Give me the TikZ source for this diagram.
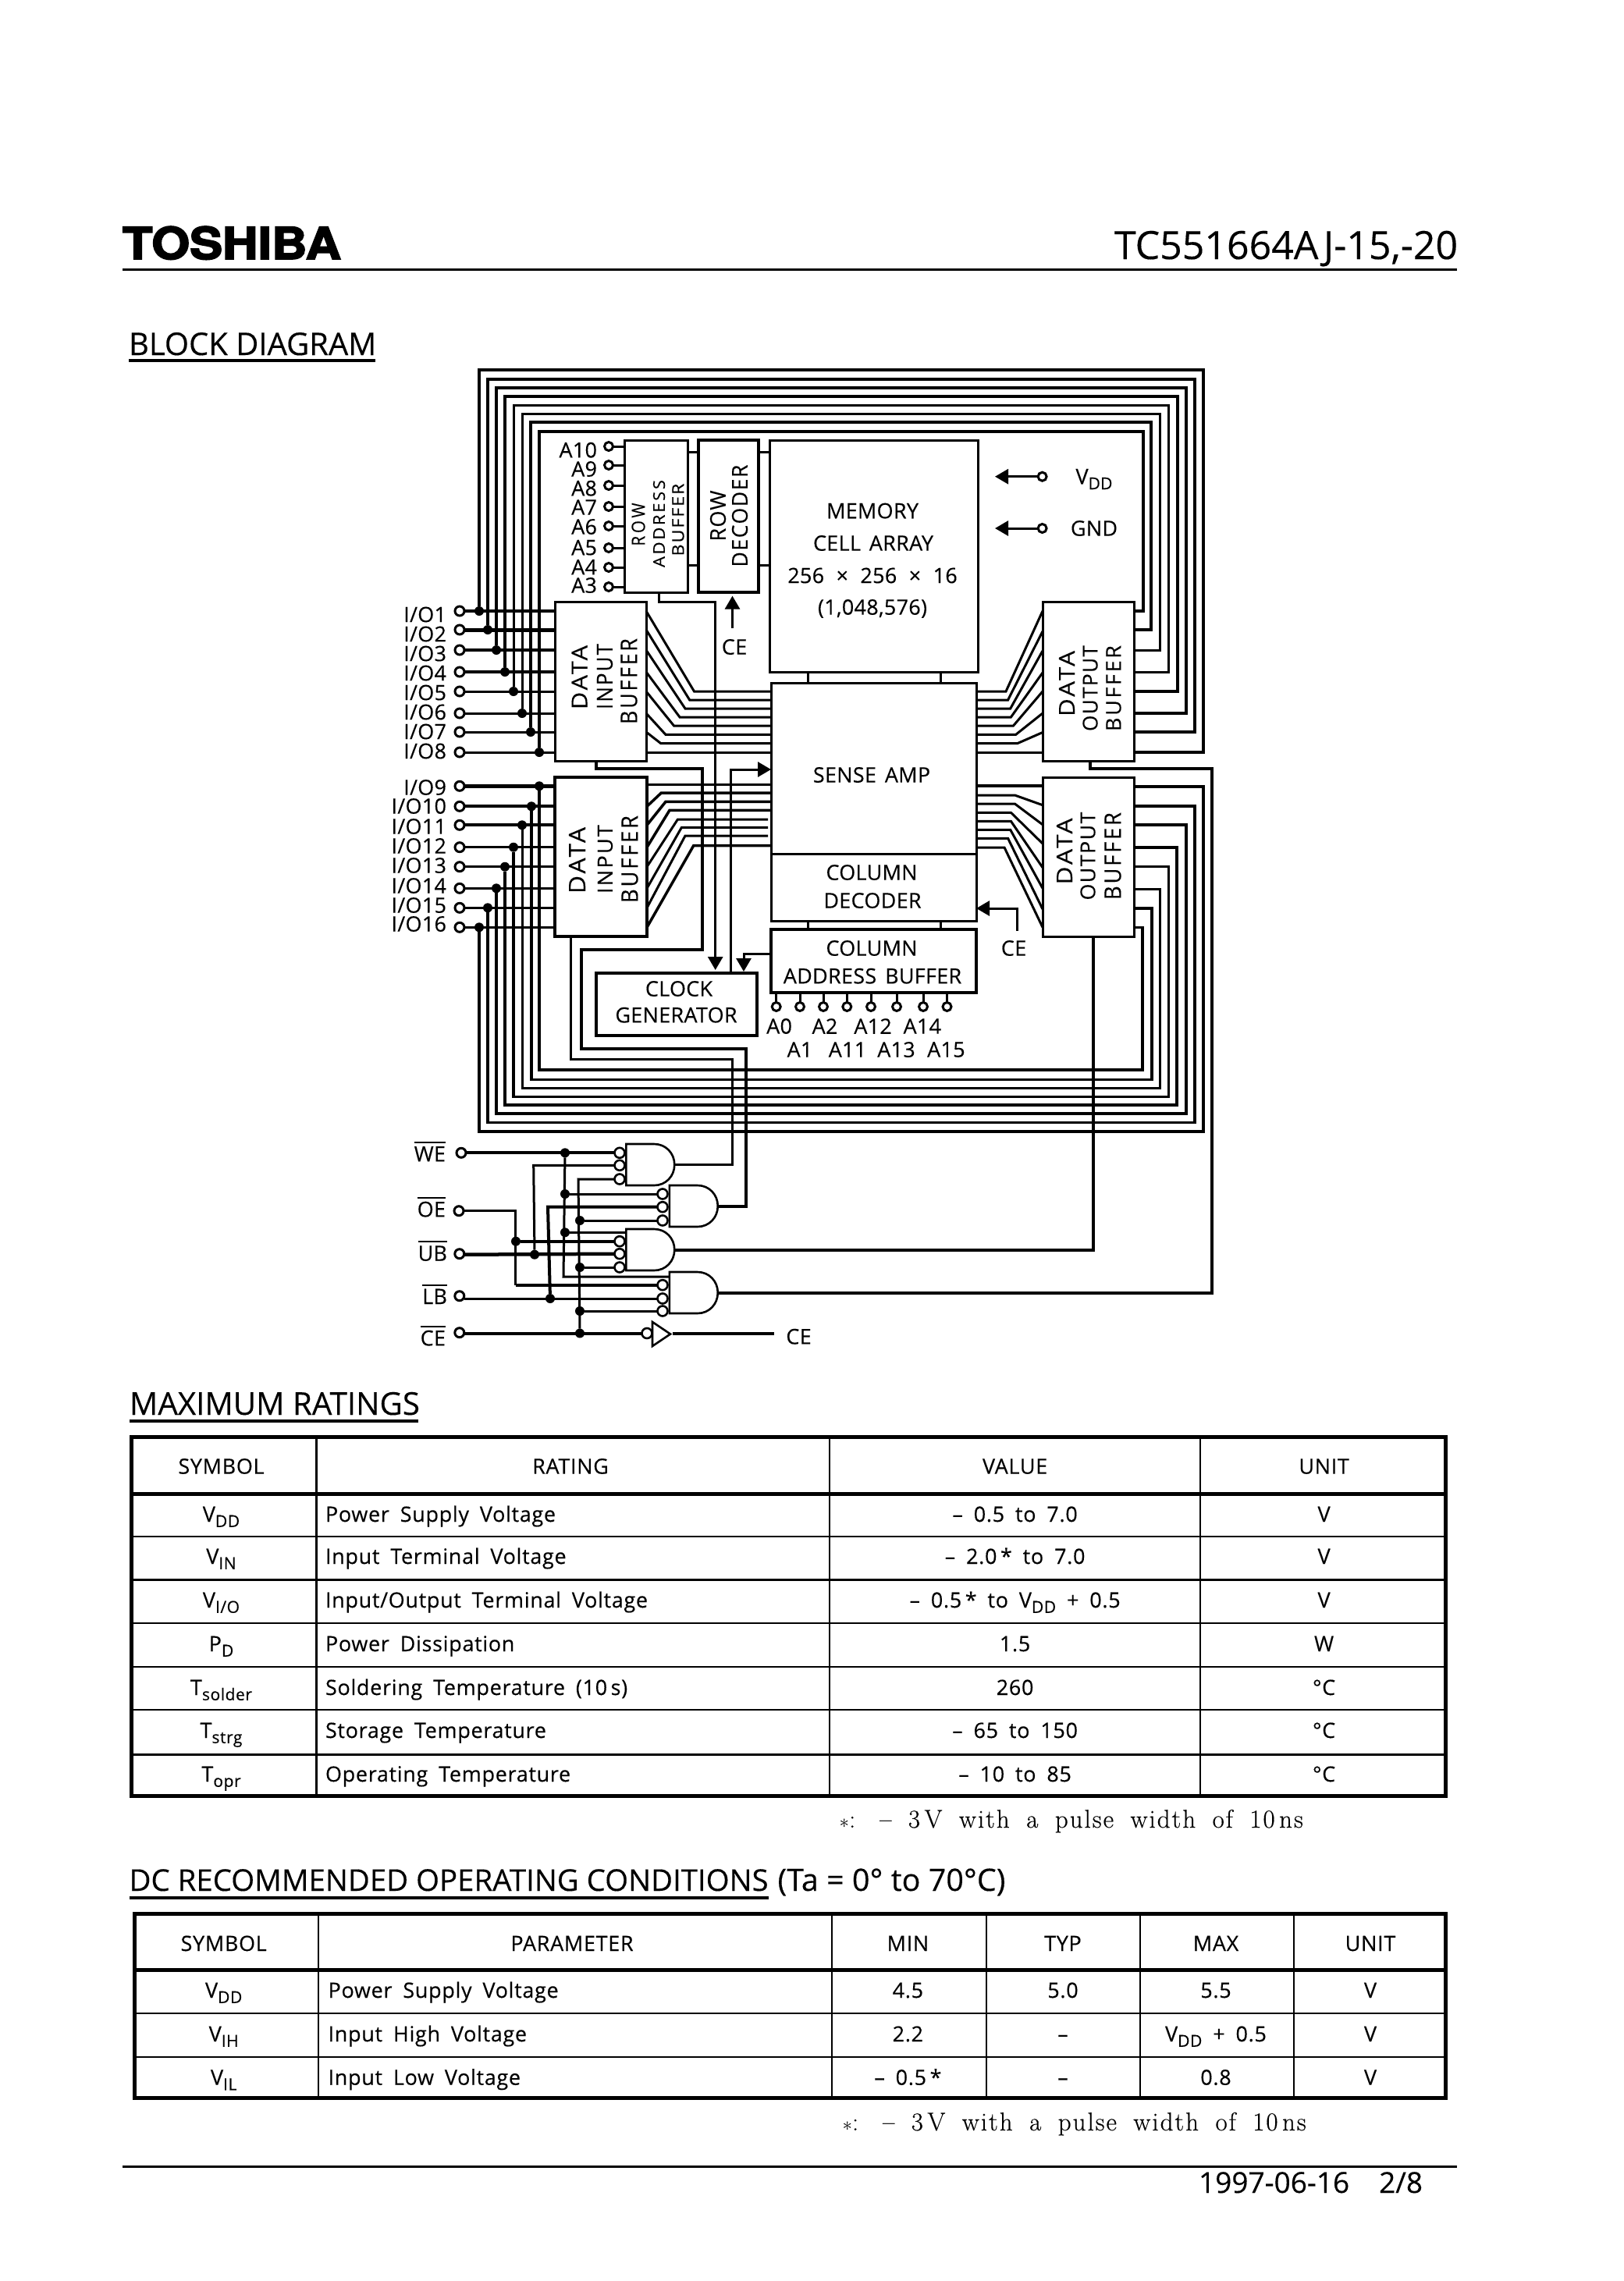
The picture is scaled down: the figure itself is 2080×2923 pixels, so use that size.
\documentclass[tikz,border=0pt]{standalone}
\usepackage{fontspec}
\usetikzlibrary{arrows.meta}
\newfontfamily\os[FakeBold=.25]{Open Sans}
\newfontfamily\osb[LetterSpace=1,WordSpace=1.5,FakeBold=.25]{Open Sans}
\newfontfamily\ost[LetterSpace=2.5,WordSpace=1.8,FakeBold=.25]{Open Sans}
\newfontfamily\hv[BoldFeatures={FakeBold=3}]{TeX Gyre Heros}
\newfontfamily\lmn[LetterSpace=6,WordSpace=1.8,FakeBold=.4]{Latin Modern Roman}
\newcommand{\fsz}[1]{\fontsize{#1}{#1}\selectfont}
\newcommand{\lsp}[2]{{\addfontfeatures{LetterSpace=#1}#2}}
\newcommand{\msub}[2]{#1\raisebox{-.25em}{\scalebox{.78}{#2}}}
\newcommand{\ovl}[1]{\vbox{\hrule height 2.2pt\kern4pt\hbox{#1}}}
\newcommand{\sized}[4]{\resizebox{#1pt}{#2pt}{\lsp{#3}{#4}}}
\newcommand{\notetext}{$\ast$: \,– 3\,V with a pulse width of 10\,ns}
\tikzset{
 every node/.style={inner sep=0pt,outer sep=0pt,font=\osb\fsz{27}},
 blk/.style={draw,line width=3pt,rectangle},
 wire/.style={line width=3pt},
 wirew/.style={line width=4pt},
 tip/.style={-{Triangle[length=17pt,width=19pt]}},
 term/.style={draw,circle,fill=white,line width=3pt,minimum size=12pt},
 bub/.style={draw,circle,fill=white,line width=2.6pt,minimum size=13pt},
 jdot/.style={circle,fill=black,minimum size=12pt},
 rot/.style={rotate=90,font=\os\fsz{27}},
 th/.style={anchor=base,font=\ost\fsz{27}},
 td/.style={anchor=base,font=\ost\fsz{27}},
 tdl/.style={anchor=base west,font=\ost\fsz{27}},
 title/.style={anchor=base west},
 note/.style={anchor=base west,font=\lmn\fsz{33}},
 gatebody/.style={line width=2.6pt,fill=white},
}
\newcommand{\gatepath}[3]{%
 \begin{scope}[shift={(#2,#3)}]
  \draw[gatebody] (0,0) -- (36,0) .. controls (51,0) and (62,12) .. (62,26.5)
    .. controls (62,41) and (51,53) .. (36,53) -- (0,53) -- cycle;
  \coordinate (#1) at (62,26.5);
 \end{scope}}
\begin{document}
\begin{tikzpicture}[x=1pt,y=-1pt,line join=miter]
\useasboundingbox (0,0) rectangle (2080,2923);
\fill[white] (0,0) rectangle (2080,2923);

% header
\node[anchor=base west] (logo) at (157,332) {\resizebox{280pt}{42pt}{\hv\bfseries TOSHIBA}};
\node[anchor=base east,font=\os\fsz{50}] (part) at (1868,332) {TC551664AJ-15,-20};
\coordinate (hl) at (157,345.5); \coordinate (hr) at (1867,345.5);
\draw[line width=3.2pt] (hl) -- (hr);
\node[title,font=\os\fsz{40}] (tblock) at (165,455) {BLOCK DIAGRAM};
\draw[line width=3.5pt] (165,462) -- (481,462);

% blocks
\node[blk,minimum width=81.5pt,minimum height=195pt] (rowaddr) at (840.75,661.5) {};
\node[blk,minimum width=77.5pt,minimum height=195pt,line width=4pt] (rowdec) at (933.25,661.5) {};
\node[blk,minimum width=267pt,minimum height=297pt] (mem) at (1119.5,712.5) {};
\node[blk,minimum width=117pt,minimum height=204pt] (inA) at (769.5,873) {};
\node[blk,minimum width=118pt,minimum height=204pt,line width=3.5pt] (inB) at (770,1098) {};
\node[blk,minimum width=117pt,minimum height=204pt] (outA) at (1394.5,873) {};
\node[blk,minimum width=117pt,minimum height=204pt] (outB) at (1394.5,1098) {};
\node[blk,minimum width=263pt,minimum height=219pt] (sense) at (1119.5,984.5) {};
\node[blk,minimum width=263pt,minimum height=86pt] (coldec) at (1119.5,1137) {};
\node[blk,minimum width=263pt,minimum height=81pt,line width=3.5pt] (coladdr) at (1119.5,1231.5) {};
\node[blk,minimum width=206pt,minimum height=80pt,line width=3.5pt] (clock) at (867,1287) {};

% block texts
\node[rot] (l1) at (818,672) {\sized{55}{17}{18}{ROW}};
\node[rot] (l2) at (844.5,671) {\sized{112}{15}{12}{ADDRESS}};
\node[rot] (l3) at (869,666) {\sized{93}{15}{8}{BUFFER}};
\node[rot] (l4) at (920,661) {\sized{65}{20}{4}{ROW}};
\node[rot] (l5) at (948,661) {\sized{131}{20}{6}{DECODER}};
\node[rot] (l6) at (742.5,868) {\sized{82}{20}{10}{DATA}};
\node[rot] (l7) at (775,867) {\sized{84}{20}{8}{INPUT}};
\node[rot] (l8) at (806,873) {\sized{110}{21}{10}{BUFFER}};
\node[rot] (l9) at (739.5,1102.5) {\sized{85}{21}{10}{DATA}};
\node[rot] (l10) at (775.5,1101) {\sized{88}{19}{8}{INPUT}};
\node[rot] (l11) at (807,1101) {\sized{112}{21}{10}{BUFFER}};
\node[rot] (l12) at (1367,876) {\sized{84}{20}{10}{DATA}};
\node[rot] (l13) at (1397,882) {\sized{110}{19}{5}{OUTPUT}};
\node[rot] (l14) at (1427,882) {\sized{110}{19}{10}{BUFFER}};
\node[rot] (l15) at (1364,1091) {\sized{85}{20}{10}{DATA}};
\node[rot] (l16) at (1394,1097) {\sized{113}{19}{5}{OUTPUT}};
\node[rot] (l17) at (1426,1097) {\sized{112}{21}{10}{BUFFER}};
\node (m1) at (1118,654.6) {MEMORY};
\node (m2) at (1119,696) {CELL ARRAY};
\node (m3) at (1118,737.5) {256\, ×\, 256\, ×\, 16};
\node (m4) at (1118,780) {(1,048,576)};
\node (s1) at (1117,993) {SENSE AMP};
\node (c1) at (1117,1118) {COLUMN};
\node (c2) at (1118,1154) {DECODER};
\node (c3) at (1117,1215) {COLUMN};
\node (c4) at (1118,1250.7) {ADDRESS BUFFER};
\node (k1) at (870,1267) {CLOCK};
\node (k2) at (866.5,1300.7) {GENERATOR};

% row address inputs
\foreach \n/\y/\ly in {10/572/576.7,9/596/601,8/622/625.7,7/649/650,6/674/675,5/702/701.7,4/727/726.7,3/752/750}{
  \node[term,minimum size=11pt] (ra\n) at (780,\y) {};
  \draw[wire] (ra\n) -- (rowaddr.west |- ra\n);
  \node[anchor=east] (la\n) at (765,\ly) {A\n};
}
% row addr - row decoder - memory stubs
\foreach \y in {579.6,724}{
  \draw[wire] (rowaddr.east |- 0,\y) -- (rowdec.west |- 0,\y);
  \draw[wire] (rowdec.east |- 0,\y) -- (mem.west |- 0,\y);
}
\foreach \x in {1035.7,1205.5}{
  \draw[wire] (\x,0 |- mem.south) -- (\x,0 |- sense.north);
  \draw[wire] (\x,0 |- coldec.south) -- (\x,0 |- coladdr.north);
}

% I/O 1-8 with top bus
\foreach \i/\y/\ly/\xl/\yt/\xr/\yo/\wr/\wb in {
 1/783/787.5/614/474/1541.5/964/3.5/4,
 2/807/812.5/625/486/1531/938/5/3.5,
 3/833/837.5/636/497/1520/914/3.5/4.5,
 4/861/862.5/647/508/1509/886/3.5/4.5,
 5/886/887.5/658/519/1497.5/861/3/3,
 6/914/912.5/669/530/1486/833/3/3,
 7/938/937.5/680/541/1475/807/3/4.5,
 8/964/962.5/691/552.5/1465/783/3/4}{
  \node[term] (io\i) at (589,\y) {};
  \node[anchor=east] (lio\i) at (572,\ly) {I/O\i};
  \draw[line width=\wr pt] (io\i) -- (inA.west |- io\i);
  \node[jdot] (dio\i) at (\xl,\y) {};
  \draw[line width=\wb pt] (dio\i) -- (\xl,\yt) -- (\xr,\yt) -- (\xr,\yo) -- (outA.east |- 0,\yo);
}
% I/O 9-16 with bottom bus
\foreach \i/\y/\ly/\xl/\yb/\xr/\yo/\wr/\wb in {
 9/1007.3/1009/691/1371/1464/1188.3/4.5/3.5,
 10/1033.3/1033/681/1383.3/1476/1164/4/3.5,
 11/1057.3/1059/669/1394/1486/1139/4/3,
 12/1085.7/1084/658/1405.7/1497.5/1110.7/3/3.5,
 13/1110.7/1109/647/1416/1508/1086/3/4,
 14/1138.3/1135/636/1427.3/1520/1057/3/4,
 15/1163.3/1160/625/1438.7/1531/1033/3/3.5,
 16/1188.3/1184/614/1450/1542/1008/3/3.5}{
  \node[term] (io\i) at (589,\y) {};
  \node[anchor=east] (lio\i) at (572,\ly) {I/O\i};
  \draw[line width=\wr pt] (io\i) -- (inB.west |- io\i);
  \node[jdot] (dio\i) at (\xl,\y) {};
  \draw[line width=\wb pt] (dio\i) -- (\xl,\yb) -- (\xr,\yb) -- (\xr,\yo) -- (outB.east |- 0,\yo);
}

% buffer A <-> sense amp
\foreach \ya/\cx/\cy in {783/889.5/886,807/883.7/897,833/878/908,861/871/919,886/863.5/930,914/853/941.4,938/846.6/952.5}{
  \draw[wire] (inA.east |- 0,\ya) -- (\cx,\cy) -- (sense.west |- 0,\cy);
}
\draw[wire] (inA.east |- 0,964) -- (sense.west |- 0,964);
\foreach \ya/\cx/\cy in {783/1289/886,809/1291.6/897,834/1294.7/908,862/1295.4/919,886/1298.5/930,914/1301.6/941.4,938.5/1304/952.5}{
  \draw[wire] (outA.west |- 0,\ya) -- (\cx,\cy) -- (sense.east |- 0,\cy);
}
\draw[wire] (outA.west |- 0,964) -- (sense.east |- 0,964);
% buffer B <-> sense amp
\draw[wire] (inB.east |- 0,1005) -- (sense.west |- 0,1005);
\foreach \ya/\cx/\cy in {1033.3/847.4/1016,1057.3/853/1027.3,1085.7/858/1038.3,1188.3/888.7/1083.7}{
  \draw[line width=3.5pt] (inB.east |- 0,\ya) -- (\cx,\cy) -- (sense.west |- 0,\cy);
}
\foreach \ya/\cx/\cy in {1110.7/868.4/1050,1138.3/873.4/1060.3,1163.3/878/1071}{
  \draw[wire] (inB.east |- 0,\ya) -- (\cx,\cy) -- (984,\cy);
}
\draw[wirew] (outB.west |- 0,1007.3) -- (sense.east |- 0,1007.3);
\foreach \ya/\cx/\cy in {1031.7/1300.4/1019,1056.7/1300.4/1030,1081/1295.4/1041.3,1111.7/1295.4/1052.3,1138.3/1294.7/1063.3,1165/1291.6/1074.3,1188.3/1287/1086}{
  \draw[wire] (outB.west |- 0,\ya) -- (\cx,\cy) -- (sense.east |- 0,\cy);
}

% supply
\foreach \n/\y/\t/\ty in {vdd/610.7/{\msub{V}{DD}}/614,gnd/677/GND/677}{
  \node[term,minimum size=11pt] (t\n) at (1335.6,\y) {};
  \draw[wire,tip] (t\n) -- (1275,\y);
  \node (lb\n) at (1402,\ty) {\t};
}

% CE arrows and labels
\node (ceA) at (941,829) {CE};
\coordinate (ceAs) at (938.5,805);
\coordinate (ceAe) at (938.5,763.6);
\draw[wire,tip] (ceAs) -- (ceAe);
\node (ceB) at (1299,1215) {CE};
\coordinate (ceBs) at (1303,1192.7);
\draw[wire,tip] (ceBs) -- (1303,1164) -- (coldec.east |- 0,1164);

% control wires
\draw[wire,tip] (844.7,0 |- rowaddr.south) -- (844.7,771.4) -- (916.7,771.4) -- (916.7,1243);
\draw[wire,tip] (936,0 |- clock.north) -- (936,986) -- (sense.west |- 0,986);
\draw[wire,tip] (coladdr.west |- 0,1222) -- (953,1222) -- (953,1245);

% column address inputs
\foreach \n/\x in {1/994.7,2/1025,3/1055,4/1085.3,5/1116,6/1149,7/1183,8/1213.5}{
  \node[term,minimum size=11pt] (ca\n) at (\x,1290) {};
  \draw[wire] (ca\n) -- (coladdr.south -| ca\n);
}
\foreach \t/\x/\y in {A0/998.6/1315,A2/1057/1315,A12/1118.6/1315,A14/1181.8/1315,A1/1025/1345,A11/1086/1345,A13/1148.5/1345,A15/1212.4/1345}{
  \node (l\t) at (\x,\y) {\t};
}

% gates
\gatepath{g1}{802.3}{1466}
\gatepath{g2}{857.8}{1519}
\gatepath{g3}{802.3}{1575}
\gatepath{g4}{857.8}{1630}

% outputs from gates to buffers
\draw[wirew] (763.6,0 |- inA.south) -- (763.6,985.3) -- (900,985.3) -- (900,1216.7) -- (744.8,1216.7) -- (744.8,1344) -- (955.7,1344) -- (955.7,1545.5) -- (g2);
\draw[wire] (731.4,0 |- inB.south) -- (731.4,1357.3) -- (938.5,1357.3) -- (938.5,1492.5) -- (g1);
\draw[wirew] (g3) -- (1400.7,1601.5) -- (1400.7,0 |- outB.south);
\draw[wirew] (g4) -- (1553,1656.5) -- (1553,985.3) -- (1397,985.3) -- (1397,0 |- outA.south);

% control terminals and labels
\node[term] (tWE) at (591,1477.3) {};
\node[term] (tOE) at (588,1551.7) {};
\node[term] (tUB) at (588.8,1606.7) {};
\node[term] (tLB) at (588.8,1660.7) {};
\node[term] (tCE) at (588.8,1707.7) {};
\node[anchor=base east] (lWE) at (571,1488.3) {\ovl{WE}};
\node[anchor=base east] (lOE) at (571,1559.3) {\ovl{OE}};
\node[anchor=base east] (lUB) at (573,1615.7) {\ovl{UB}};
\node[anchor=base east] (lLB) at (573,1671) {\ovl{LB}};
\node[anchor=base east] (lCE) at (571,1724.3) {\ovl{CE}};

% bubbles
\foreach \n/\x/\y in {b1a/794/1477.3,b1b/794/1493.3,b1c/794/1511,
 b2a/849/1530,b2b/849/1546.7,b2c/849/1564,
 b3a/794/1590.7,b3b/794/1606.7,b3c/794/1624,
 b4a/849/1646.7,b4b/849/1664,b4c/849/1680,bufb/829/1708.5}{
  \node[bub] (\n) at (\x,\y) {};
}
% junctions
\foreach \n/\x/\y in {jwe1/724/1477.3,jwe2/724/1530,jwe3/724/1579.3,
 joe1/661/1590.7,jub1/685/1607.7,jlb1/705/1664,
 jce1/743/1564,jce2/743/1624,jce3/743/1680,jce4/743/1708.5}{
  \node[jdot] (\n) at (\x,\y) {};
}
\draw[wirew] (tWE) -- (b1a);
\draw[wire] (jwe1) -- (722,1636) -- (857.8,1636);
\draw[wire] (jwe2) -- (b2a);
\draw[wire] (jwe3) -- (802.3,1579.3);
\draw[wire] (tOE) -- (660.7,1551.7) -- (660.7,1647);
\draw[wirew] (660.7,1646.7) -- (b4a);
\draw[wirew] (joe1) -- (b3a);
\draw[line width=4.5pt] (tUB.east |- 0,1607.7) -- (b3b);
\draw[wire] (jub1) -- (683.7,1493.3) -- (b1b);
\draw[wire] (tLB.east |- 0,1664) -- (b4b);
\draw[wirew] (jlb1) -- (702,1546.7) -- (b2b);
\draw[wire] (jce4) -- (741,1511) -- (b1c);
\draw[wire] (jce1) -- (b2c);
\draw[wire] (jce2) -- (b3c);
\draw[wire] (jce3) -- (b4c);
\draw[wirew] (tCE.east |- 0,1708.5) -- (bufb);
\draw[line width=2.6pt,fill=white] (836,1694) -- (859,1709.5) -- (836,1725) -- cycle;
\coordinate (buf) at (861.6,1708.5);
\coordinate (bufe) at (992,1708.5);
\node (ceout) at (1023.5,1712.7) {CE};
\draw[wirew] (buf) -- (bufe);

% MAXIMUM RATINGS
\node[title,font=\os\fsz{40.3}] (tmax) at (166,1813) {MAXIMUM RATINGS};
\draw[line width=3.5pt] (166,1821) -- (536,1821);
\foreach \y/\w in {1969/2.4,2024/3,2080/2.4,2136/2.4,2191/2.4,2248/3}{
  \draw[line width=\w pt] (168.7,\y) -- (1852,\y);
}
\draw[line width=5pt] (168.7,1914) -- (1852,1914);
\foreach \x in {405.8,1063,1538}{ \draw[line width=2.8pt] (\x,1841) -- (\x,2301); }
\draw[line width=5pt] (168.7,1841) rectangle (1852,2301);
\node[th] (h1) at (283.5,1888.6) {SYMBOL};
\node[th] (h2) at (731,1888.6) {RATING};
\node[th] (h3) at (1300.6,1888.6) {VALUE};
\node[th] (h4) at (1696.6,1888.6) {UNIT};
\foreach \n/\y/\s/\r/\v/\u in {
 1/1950/{\msub{V}{DD}}/Power Supply Voltage/{– 0.5 to 7.0}/V,
 2/2004/{\msub{V}{IN}}/Input Terminal Voltage/{– 2.0\,* to 7.0}/V,
 3/2060/{\msub{V}{I/O}}/{Input/Output Terminal Voltage}/{– 0.5\,* to \msub{V}{DD} + 0.5}/V,
 4/2116/{\msub{P}{D}}/Power Dissipation/1.5/W,
 5/2172/{\msub{T}{solder}}/Soldering Temperature (10\,s)/260/°C,
 6/2227/{\msub{T}{strg}}/Storage Temperature/{– 65 to 150}/°C,
 7/2283/{\msub{T}{opr}}/Operating Temperature/{– 10 to 85}/°C}{
  \node[td] (sy\n) at (283.5,\y) {\s};
  \node[tdl] (rt\n) at (417,\y) {\r};
  \node[td] (va\n) at (1300.6,\y) {\v};
  \node[td] (un\n) at (1696.6,\y) {\u};
}
\node[note] (fn1) at (1075.6,2342) {\notetext};

% DC CONDITIONS
\node[title,font=\os\fsz{38.4}] (tdc) at (165.5,2423) {DC RECOMMENDED OPERATING CONDITIONS};
\draw[line width=3.5pt] (165.5,2432) -- (985,2432);
\node[title,font=\os\fsz{39.5}] (tdc2) at (996.5,2423) {(Ta = 0° to 70°C)};
\foreach \y/\w in {2580/2.4,2636/2.4}{
  \draw[line width=\w pt] (172,\y) -- (1852,\y);
}
\draw[line width=5pt] (172,2524) -- (1852,2524);
\foreach \x in {408,1066,1263.8,1461,1658}{ \draw[line width=2.6pt] (\x,2452.5) -- (\x,2688); }
\draw[line width=5pt] (172,2452.5) rectangle (1852,2688);
\foreach \t/\x in {SYMBOL/286.7,PARAMETER/733,MIN/1163.4,TYP/1362,MAX/1558,UNIT/1756}{
  \node[th] (dh\t) at (\x,2500) {\t};
}
\foreach \n/\y/\s/\r/\a/\b/\c in {
 1/2560/{\msub{V}{DD}}/Power Supply Voltage/4.5/5.0/5.5,
 2/2616/{\msub{V}{IH}}/Input High Voltage/2.2/–/{\msub{V}{DD} + 0.5},
 3/2671.7/{\msub{V}{IL}}/Input Low Voltage/{– 0.5\,*}/–/0.8}{
  \node[td] (ds\n) at (286.7,\y) {\s};
  \node[tdl] (dp\n) at (420.6,\y) {\r};
  \node[td] (da\n) at (1163.4,\y) {\a};
  \node[td] (db\n) at (1362,\y) {\b};
  \node[td] (dc\n) at (1558,\y) {\c};
  \node[td] (du\n) at (1756,\y) {V};
}
\node[note] (fn2) at (1079.5,2730) {\notetext};

% footer
\coordinate (fl) at (157,2776.7); \coordinate (fr) at (1867,2776.7);
\draw[line width=3pt] (fl) -- (fr);
\node[anchor=base west,font=\os\fsz{37}] (date) at (1536,2810) {1997-06-16\hspace{38pt}2/8};
\end{tikzpicture}
\end{document}
